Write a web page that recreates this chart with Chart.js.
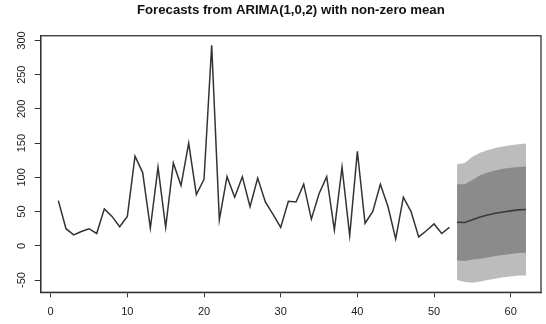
<!DOCTYPE html>
<html>
<head>
<meta charset="utf-8">
<script src="https://cdn.jsdelivr.net/npm/chart.js@4"></script>
<style>
  body { margin: 0; background: #fff; }
</style>
</head>
<body>
<canvas id="grafico" width="546" height="324"></canvas>
<script>
// serie observada (t = 1..52)
const serieInicio = 1
const serie = [66, 25, 16, 21, 25, 18, 54, 43, 28, 43, 131, 107, 26, 115, 27, 121, 88, 150, 75, 97,
  293, 38, 101, 71, 101, 57, 99, 64, 46, 27, 65, 64, 90, 39, 76, 101, 23, 115, 15, 138,
  33, 50, 90, 57, 10, 71, 50, 13, 22, 32, 18, 27]

// previsao (t = 53..62)
const previsaoInicio = 53
const media = [34.5, 34, 38, 42, 45, 47.5, 49.5, 51, 52.5, 53]
const sup80 = [90, 90, 96, 103, 107, 110, 112.5, 114, 115, 116]
const inf80 = [-21, -22, -20, -19, -17, -15, -13.5, -12, -10.5, -10]
const sup95 = [119, 121, 130, 136, 140, 143, 145, 147, 148.5, 149.5]
const inf95 = [-50, -53, -54, -52, -50, -48, -46, -45, -43.5, -43.5]

const ticksX = [0, 10, 20, 30, 40, 50, 60]
const ticksY = [-50, 0, 50, 100, 150, 200, 250, 300]

function pontos(valores, inicio) {
  return valores.map((v, i) => ({ x: inicio + i, y: v }))
}

const fonte = "'Liberation Sans', Arial, sans-serif"
Chart.defaults.font.family = fonte
Chart.defaults.color = '#222'

// caixa em volta da area do grafico, como no R
// e titulo centrado sobre a area do grafico
const caixa = {
  id: 'caixa',
  afterLayout(chart) {
    if (chart.titleBlock) {
      chart.titleBlock.left = chart.chartArea.left
      chart.titleBlock.right = chart.chartArea.right
    }
  },
  afterDraw(chart) {
    const { ctx, chartArea } = chart
    ctx.save()
    ctx.strokeStyle = '#333'
    ctx.lineWidth = 1.3
    ctx.strokeRect(chartArea.left, chartArea.top, chartArea.right - chartArea.left, chartArea.bottom - chartArea.top)
    ctx.restore()
  }
}

const semLinha = { borderWidth: 0, pointRadius: 0, tension: 0 }

new Chart(document.getElementById('grafico'), {
  type: 'line',
  data: {
    datasets: [
      { label: 'serie', data: pontos(serie, serieInicio), borderColor: '#333', borderWidth: 1.5, pointRadius: 0, tension: 0, fill: false },
      { label: 'media', data: pontos(media, previsaoInicio), borderColor: '#3a3a3a', borderWidth: 1.6, pointRadius: 0, tension: 0, fill: false },
      { label: '80 sup', data: pontos(sup80, previsaoInicio), ...semLinha, fill: '+1', backgroundColor: '#8b8b8b' },
      { label: '80 inf', data: pontos(inf80, previsaoInicio), ...semLinha, fill: false },
      { label: '95 sup', data: pontos(sup95, previsaoInicio), ...semLinha, fill: '+1', backgroundColor: '#bcbcbc' },
      { label: '95 inf', data: pontos(inf95, previsaoInicio), ...semLinha, fill: false }
    ]
  },
  options: {
    responsive: false,
    animation: false,
    devicePixelRatio: 1,
    layout: { padding: { left: 0, right: 5, top: 0, bottom: 0 } },
    plugins: {
      legend: { display: false },
      tooltip: { enabled: false },
      title: {
        display: true,
        text: 'Forecasts from ARIMA(1,0,2) with non-zero mean',
        color: '#111',
        font: { size: 13.2, weight: 'bold', family: fonte, lineHeight: 1.2 },
        padding: { top: 2.5, bottom: 17.4 }
      }
    },
    scales: {
      x: {
        type: 'linear',
        min: -1.3,
        max: 63.95,
        afterBuildTicks: s => { s.ticks = ticksX.map(v => ({ value: v })) },
        afterFit: s => { s.height = 31.7 },
        grid: { display: true, drawOnChartArea: false, drawTicks: true, tickLength: 5, color: '#333' },
        border: { display: true, color: '#333', width: 1.3 },
        ticks: { font: { size: 11 }, padding: 8, maxRotation: 0, color: '#222' }
      },
      y: {
        min: -67.9,
        max: 306.9,
        afterBuildTicks: s => { s.ticks = ticksY.map(v => ({ value: v })) },
        afterFit: s => { s.width = 40.7 },
        grid: { display: true, drawOnChartArea: false, drawTicks: true, tickLength: 6, color: '#333' },
        border: { display: true, color: '#333', width: 1.3 },
        ticks: { font: { size: 11 }, padding: 4, minRotation: 90, maxRotation: 90, crossAlign: 'center', color: '#222' }
      }
    }
  },
  plugins: [caixa]
})
</script>
</body>
</html>
